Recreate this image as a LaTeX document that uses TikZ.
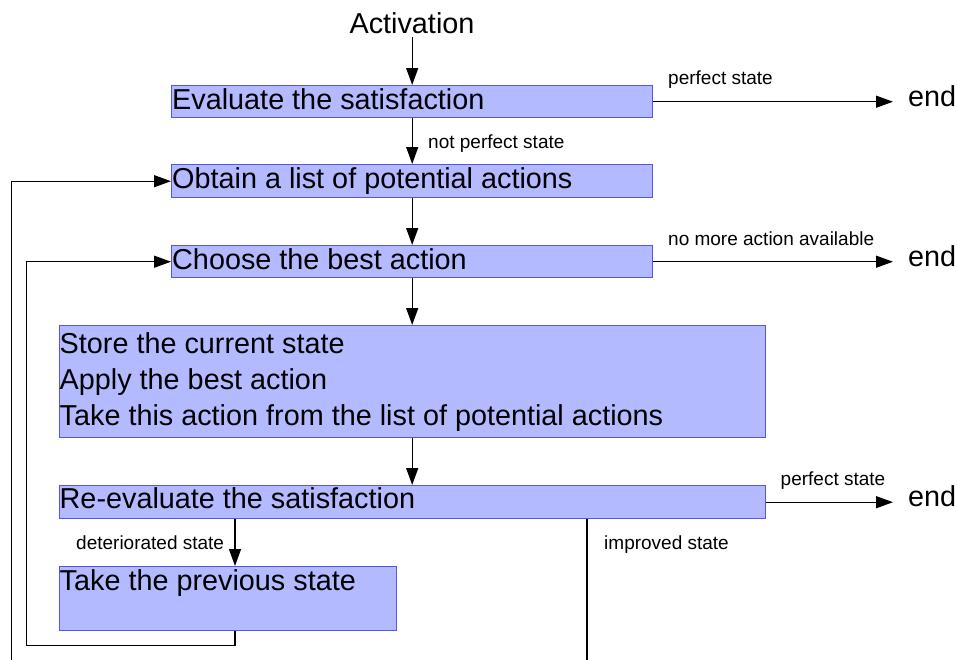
\documentclass[tikz,border=0pt]{standalone}
\usepackage{fontspec}
\setmainfont{Liberation Sans}
\usetikzlibrary{arrows.meta}
\definecolor{boxfill}{RGB}{180,186,255}
\definecolor{boxline}{RGB}{85,85,235}
\begin{document}
\begin{tikzpicture}[x=1pt,y=-1pt,
  box/.style={draw=boxline, fill=boxfill, line width=1.4pt, rectangle, anchor=north west, inner sep=0pt},
  big/.style={font=\fontsize{28.8}{34}\selectfont, anchor=base west, inner sep=0pt},
  small/.style={font=\fontsize{19}{23}\selectfont, anchor=base west, inner sep=0pt},
  arr/.style={line width=1.3pt, -{Triangle[length=17pt,width=12pt]}},
  ln/.style={line width=1.3pt}]
\useasboundingbox (0,0) rectangle (957,659);
% boxes
\node[box, minimum width=481pt, minimum height=32pt] (b1) at (171,85) {};
\node[box, minimum width=481pt, minimum height=33pt] (b2) at (171,164) {};
\node[box, minimum width=481pt, minimum height=32pt] (b3) at (171,245) {};
\node[box, minimum width=706pt, minimum height=112pt] (b4) at (58.5,325) {};
\node[box, minimum width=706pt, minimum height=33pt] (b5) at (58.5,485) {};
\node[box, minimum width=337pt, minimum height=64pt] (b6) at (58.5,566) {};
% texts
\node[big, anchor=base, inner sep=4pt] (act) at (412,33) {Activation};
\node[big] (t1) at (172,109) {Evaluate the satisfaction};
\node[big] (t2) at (172,188) {Obtain a list of potential actions};
\node[big] (t3) at (172,269) {Choose the best action};
\node[big] (t4a) at (59.5,353) {Store the current state};
\node[big] (t4b) at (59.5,389) {Apply the best action};
\node[big] (t4c) at (59.5,425.5) {Take this action from the list of potential actions};
\node[big] (t5) at (59.5,508.5) {Re-evaluate the satisfaction};
\node[big] (t6) at (59.5,590) {Take the previous state};
% end nodes
\node[big] (e1) at (908,106) {end};
\node[big] (e2) at (908,266) {end};
\node[big] (e3) at (908,506) {end};
% labels
\node[small] (l1) at (428,148) {not perfect state};
\node[small] (l2) at (668,84.5) {perfect state};
\node[small] (l3) at (668,245) {no more action available};
\node[small] (l4) at (780.5,485) {perfect state};
\node[small] (l5) at (76,549) {deteriorated state};
\node[small] (l6) at (604,549) {improved state};
% helper coordinates
\coordinate (tip) at (893,0);
\coordinate (x6) at (235,0);
\coordinate (lp) at (26.5,645.5);
\coordinate (outc) at (11.5,662);
\coordinate (imp) at (587,662);
% vertical arrows
\draw[arr] (act.south -| b1.north) -- (b1.north);
\draw[arr] (b1.south) -- (b2.north);
\draw[arr] (b2.south) -- (b3.north);
\draw[arr] (b3.south) -- (b3.south |- b4.north);
\draw[arr] (b4.south -| b3.south) -- (b3.south |- b5.north);
\draw[arr] (b5.south -| x6) -- (b6.north -| x6);
% right arrows
\draw[arr] (b1.east) -- (b1.east -| tip);
\draw[arr] (b3.east) -- (b3.east -| tip);
\draw[arr] (b5.east) -- (b5.east -| tip);
% loops
\draw[arr] (b6.south -| x6) |- (lp) |- (b3.west);
\draw[arr] (outc) |- (b2.west);
\draw[ln] (b5.south -| imp) -- (imp);
\end{tikzpicture}
\end{document}
